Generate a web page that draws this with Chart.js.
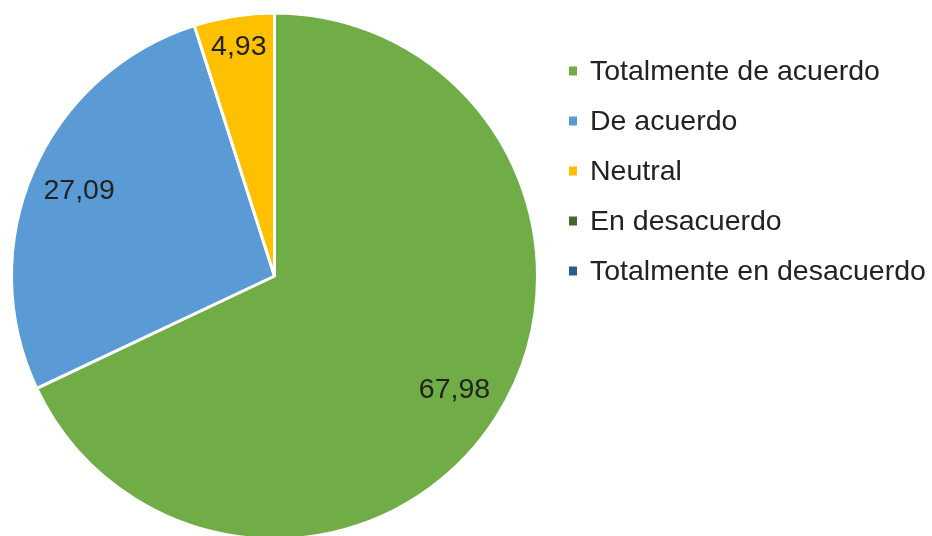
<!DOCTYPE html>
<html>
<head>
<meta charset="utf-8">
<script src="https://cdn.jsdelivr.net/npm/chart.js@4"></script>
<style>
  html, body { margin: 0; padding: 0; background: #fff; overflow: hidden; }
  #wrap { width: 932px; height: 560px; }
</style>
</head>
<body>
<div id="wrap"><canvas id="grafico" width="932" height="560"></canvas></div>
<script>
// === Datos ===
const categorias = ['Totalmente de acuerdo', 'De acuerdo', 'Neutral', 'En desacuerdo', 'Totalmente en desacuerdo'];
const porcentajes = [67.98, 27.09, 4.93, 0, 0];
const colores = ['#70AD47', '#5B9BD5', '#FFC000', '#43682B', '#255E91'];

const fuente = '"Liberation Sans", Arial, sans-serif';

// Etiquetas de valor dentro de cada porcion
const etiquetasPlugin = {
    id: 'etiquetas',
    afterDatasetsDraw(chart) {
        const c = chart.ctx;
        const meta = chart.getDatasetMeta(0);
        c.save();
        c.font = '28.5px ' + fuente;
        c.fillStyle = '#222222';
        c.textAlign = 'center';
        c.textBaseline = 'middle';
        meta.data.forEach((arc, i) => {
            const v = porcentajes[i];
            if (!v) return;
            const mid = (arc.startAngle + arc.endAngle) / 2;
            const f = v < 10 ? 0.88 : 0.81;
            const x = arc.x + Math.cos(mid) * arc.outerRadius * f;
            const y = arc.y + Math.sin(mid) * arc.outerRadius * f;
            c.fillText(v.toFixed(2).replace('.', ','), x, y);
        });
        c.restore();
    }
};

// Leyenda a la derecha
const leyendaPlugin = {
    id: 'leyenda',
    afterDraw(chart) {
        const c = chart.ctx;
        c.save();
        c.font = '28.5px ' + fuente;
        c.textBaseline = 'middle';
        c.textAlign = 'left';
        categorias.forEach((cat, i) => {
            const y = 71 + i * 50;
            c.fillStyle = colores[i];
            c.fillRect(569, y - 4.5, 8, 9);
            c.fillStyle = '#222222';
            c.fillText(cat, 590, y + 1);
        });
        c.restore();
    }
};

new Chart(document.getElementById('grafico').getContext('2d'), {
    type: 'pie',
    data: {
        labels: categorias,
        datasets: [{
            data: porcentajes,
            backgroundColor: colores,
            borderColor: '#ffffff',
            borderWidth: 3
        }]
    },
    options: {
        responsive: false,
        animation: false,
        layout: { padding: { left: 10, top: 11.5, right: 393, bottom: 19.5 } },
        plugins: {
            legend: { display: false },
            tooltip: { enabled: false }
        }
    },
    plugins: [etiquetasPlugin, leyendaPlugin]
});
</script>
</body>
</html>
